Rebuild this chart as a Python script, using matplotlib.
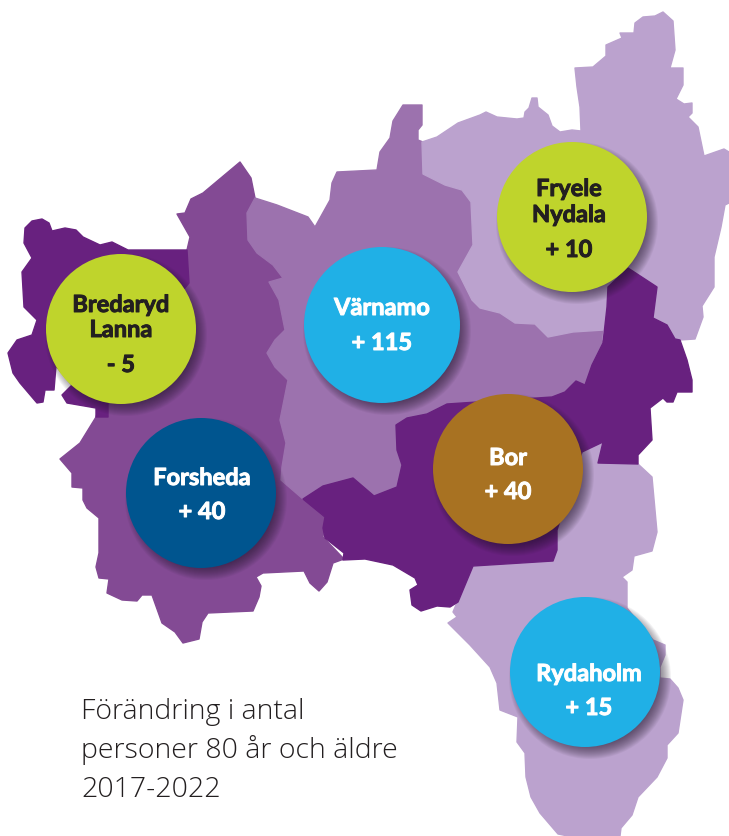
import matplotlib
matplotlib.use('Agg')
import matplotlib.pyplot as plt
import matplotlib.patches as patches
import matplotlib.patheffects as pe

# Bubbles: name lines and change in number of people 80+
bubble_names = [['Bredaryd', 'Lanna'], ['Fryele', 'Nydala'], ['Värnamo'], ['Forsheda'], ['Bor'], ['Rydaholm']]
bubble_values = ['- 5', '+ 10', '+ 115', '+ 40', '+ 40', '+ 15']
bubble_x = [121, 572, 382, 201, 508, 585]
bubble_y = [329, 217, 325, 493, 469, 672]
bubble_r = [75, 75, 78, 75, 75, 75]
bubble_colors = ['#bfd42c', '#bfd42c', '#20b0e6', '#00558f', '#a87222', '#20b0e6']
text_colors = ['#231f20', '#231f20', 'white', 'white', 'white', 'white']
text_x = [121, 569, 382, 202, 508, 589]
name_baselines = [[312, 337], [196, 222], [315], [485], [465], [681]]
value_baselines = [372, 257, 350, 519, 499, 715]

caption_lines = ['Förändring i antal', 'personer 80 år och äldre', '2017-2022']
caption_baselines = [719, 758, 797]

# Map outlines in image pixels
forsheda_outline = [(240, 162), (251, 178), (255, 198), (247, 213), (248, 240), (257, 253), (273, 265), (283, 278),
                    (269, 282), (279, 300), (285, 330), (275, 340), (267, 353), (275, 367), (288, 380), (280, 420),
                    (286, 443), (282, 467), (281, 480), (303, 498), (325, 518), (323, 537), (344, 559), (333, 563),
                    (327, 582), (319, 591), (310, 583), (304, 571), (263, 573), (256, 577), (261, 586), (259, 597),
                    (253, 611), (208, 613), (202, 622), (199, 639), (183, 643), (175, 632), (162, 623), (152, 595),
                    (142, 595), (137, 601), (122, 600), (107, 593), (109, 579), (99, 578), (96, 567), (99, 553),
                    (99, 518), (87, 508), (83, 500), (83, 488), (72, 487), (72, 473), (60, 459), (80, 443), (96, 417),
                    (104, 390), (150, 370), (188, 283), (187, 250), (190, 237), (177, 214), (185, 213), (191, 199),
                    (203, 193)]
bredaryd_outline = [(25, 228), (32, 221), (42, 219), (49, 223), (52, 231), (65, 228), (76, 230), (83, 237), (100, 245),
                    (112, 242), (128, 250), (187, 250), (189, 283), (108, 380), (108, 417), (96, 417), (96, 408),
                    (67, 403), (62, 395), (72, 385), (56, 366), (54, 390), (45, 390), (43, 402), (37, 403), (20, 383),
                    (13, 373), (8, 353), (17, 340), (32, 335), (37, 320), (24, 307), (22, 272), (32, 258), (24, 243)]
varnamo_outline = [(255, 198), (247, 213), (248, 240), (257, 253), (273, 265), (283, 278), (269, 282), (279, 300),
                   (285, 330), (275, 340), (267, 353), (275, 367), (288, 380), (280, 420), (286, 443), (282, 467),
                   (281, 480), (303, 499), (380, 505), (420, 470), (560, 420), (603, 400), (620, 330), (480, 150),
                   (423, 142), (418, 140), (418, 130), (422, 125), (422, 105), (403, 105), (393, 121), (390, 138),
                   (380, 152), (377, 170), (337, 172), (332, 183), (330, 200), (315, 227), (308, 217), (277, 205)]
fryele_outline = [(422, 142), (437, 137), (458, 123), (480, 115), (486, 112), (497, 117), (517, 119), (524, 118),
                  (525, 112), (529, 108), (532, 98), (537, 98), (538, 107), (548, 115), (552, 126), (560, 132),
                  (572, 130), (581, 131), (580, 107), (577, 87), (575, 68), (593, 67), (606, 56), (606, 45), (622, 38),
                  (620, 33), (634, 33), (635, 23), (643, 17), (655, 16), (663, 12), (673, 21), (675, 50), (670, 68),
                  (683, 68), (683, 85), (676, 99), (684, 104), (692, 103), (692, 113), (688, 117), (698, 127),
                  (704, 156), (724, 149), (729, 152), (729, 203), (725, 205), (721, 227), (714, 257), (714, 287),
                  (702, 306), (703, 317), (695, 339), (680, 340), (603, 340), (604, 330), (573, 332), (548, 337),
                  (535, 324), (515, 323), (500, 313), (480, 308), (472, 300), (458, 272), (473, 245), (471, 202),
                  (462, 190), (445, 185), (423, 174)]
rydaholm_outline = [(603, 442), (598, 463), (638, 464), (652, 477), (657, 532), (652, 551), (634, 556), (632, 570),
                    (622, 577), (627, 582), (627, 608), (653, 640), (665, 645), (665, 655), (660, 667), (660, 678),
                    (670, 679), (678, 688), (683, 700), (678, 733), (667, 745), (667, 758), (657, 777), (638, 797),
                    (632, 815), (621, 828), (620, 836), (568, 836), (558, 834), (540, 813), (531, 797), (526, 777),
                    (525, 753), (517, 742), (518, 717), (500, 710), (497, 683), (490, 667), (470, 645), (448, 623),
                    (457, 617), (453, 612), (458, 600), (473, 566), (553, 561), (557, 550), (557, 530), (582, 452)]
bor_outline = [(303, 499), (323, 486), (353, 478), (374, 496), (397, 487), (402, 465), (397, 450), (396, 425),
               (407, 418), (427, 414), (447, 404), (552, 397), (565, 392), (576, 381), (585, 385), (592, 365),
               (603, 343), (607, 307), (608, 287), (628, 268), (657, 287), (653, 318), (667, 325), (675, 339),
               (680, 340), (687, 360), (692, 380), (692, 392), (677, 392), (673, 402), (667, 402), (663, 398),
               (650, 408), (652, 440), (638, 455), (638, 464), (598, 463), (603, 442), (582, 452), (557, 530),
               (557, 550), (553, 561), (473, 566), (458, 602), (450, 607), (437, 606), (421, 611), (412, 605),
               (410, 590), (418, 585), (415, 578), (393, 565), (365, 559), (343, 560), (344, 553), (325, 538),
               (323, 528), (325, 517)]

map_shapes = [forsheda_outline, bredaryd_outline, varnamo_outline, fryele_outline, rydaholm_outline, bor_outline]
map_colors = ['#834a94', '#68217f', '#9c72ae', '#bba2ce', '#bba2ce', '#68217f']

fig = plt.figure(figsize=(7.29, 8.36), dpi=100)
ax = fig.add_axes([0, 0, 1, 1])
ax.set_xlim(0, 729)
ax.set_ylim(836, 0)
ax.axis('off')

for shape, color in zip(map_shapes, map_colors):
    ax.add_patch(patches.Polygon(shape, closed=True, facecolor=color, edgecolor=color, linewidth=1,
                                 joinstyle='round'))

label_font = dict(family='Lato', fontweight='bold', fontsize=17, ha='center', va='baseline')

for i in range(len(bubble_names)):
    # soft shadow, lower right only
    for k in range(14):
        ax.add_patch(patches.Circle((bubble_x[i] + 5, bubble_y[i] + 6), bubble_r[i] + 6 - k,
                                    facecolor='#201528', edgecolor='none', alpha=0.055, zorder=3))
    ax.add_patch(patches.Circle((bubble_x[i], bubble_y[i]), bubble_r[i], facecolor=bubble_colors[i],
                                edgecolor='none', zorder=4))
    # thin stroke makes the labels as heavy as in the original
    heavy = [pe.withStroke(linewidth=0.7, foreground=text_colors[i])]
    for line, base in zip(bubble_names[i], name_baselines[i]):
        ax.text(text_x[i], base, line, color=text_colors[i], zorder=5, path_effects=heavy, **label_font)
    ax.text(text_x[i], value_baselines[i], bubble_values[i], color=text_colors[i], zorder=5,
            path_effects=heavy, **label_font)

for line, base in zip(caption_lines, caption_baselines):
    ax.text(81, base, line, family='Open Sans', fontweight='light', fontsize=20.5, color='#231f20',
            ha='left', va='baseline')

fig.savefig('out.png', dpi=100)
